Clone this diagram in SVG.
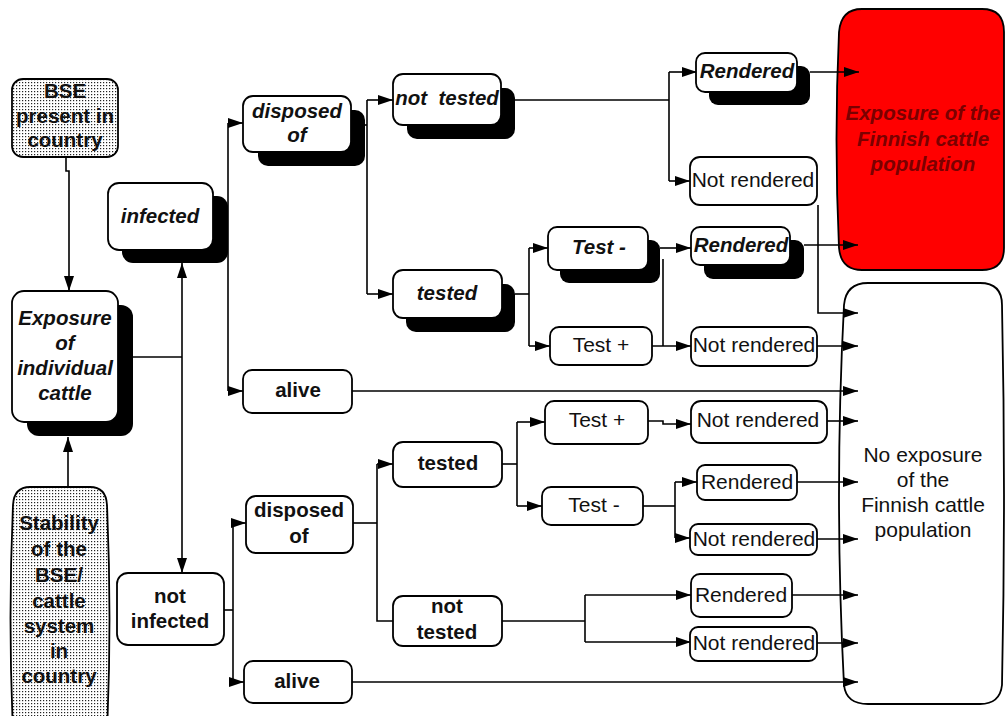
<svg xmlns="http://www.w3.org/2000/svg" width="1005" height="716" viewBox="0 0 1005 716">
<defs>
<pattern id="dots" width="3" height="3" patternUnits="userSpaceOnUse">
<rect width="3" height="3" fill="#fff"/>
<rect x="1" y="1" width="1.2" height="1.2" fill="#222"/>
</pattern>
<marker id="arr" markerWidth="15" markerHeight="10" refX="15" refY="5" orient="auto" markerUnits="userSpaceOnUse">
<path d="M0,0 L15,5 L0,10 z" fill="#000"/>
</marker>
</defs>
<style>
.box{fill:#fff;stroke:#000;stroke-width:1.8}
.sh{fill:#000}
.dot{fill:url(#dots);stroke:#000;stroke-width:1.8}
.c{fill:none;stroke:#000;stroke-width:1.6}
.a{marker-end:url(#arr)}
text{font-family:"Liberation Sans",Arial,sans-serif;text-anchor:middle;fill:#111}
.b{font-weight:bold;font-size:20.5px}
.bi{font-weight:bold;font-style:italic;font-size:20.5px}
.n{font-size:21px}
.red{fill:#7a0000}
</style>

<g id="exposure-finnish">
<path d="M862,9 H982 Q1004,9 1004,32 V248 Q1004,270 982,270 H862 Q841,270 839,248 Q834,139 839,32 Q841,9 862,9 Z" fill="#f00" stroke="#000" stroke-width="1.8"/>
<text class="bi red" x="923" y="120">Exposure of the</text>
<text class="bi red" x="923" y="146">Finnish cattle</text>
<text class="bi red" x="923" y="171">population</text>
</g>

<g id="no-exposure">
<path d="M868,283 H980 Q1002,283 1002,305 Q1006,494 1002,685 Q1000,704 980,704 H868 Q846,704 844,685 Q834,494 844,305 Q846,283 868,283 Z" fill="#fff" stroke="#000" stroke-width="1.8"/>
<text class="n" x="923" y="462">No exposure</text>
<text class="n" x="923" y="487">of the</text>
<text class="n" x="923" y="512">Finnish cattle</text>
<text class="n" x="923" y="537">population</text>
</g>

<g id="connectors">
<path class="c a" d="M66,158 V171 H69 V291"/>
<path class="c a" d="M68,487 V437"/>
<path class="c" d="M118,357 H182"/>
<path class="c a" d="M182,357 V263"/>
<path class="c a" d="M182,357 V573"/>
<path class="c" d="M213,216 H228"/>
<path class="c" d="M228,123 V391"/>
<path class="c a" d="M228,123 H243"/>
<path class="c a" d="M228,391 H243"/>
<path class="c" d="M352,125 H367"/>
<path class="c" d="M367,100 V294"/>
<path class="c a" d="M367,100 H393"/>
<path class="c a" d="M367,294 H393"/>
<path class="c" d="M515,100 H669"/>
<path class="c" d="M669,72 V181"/>
<path class="c a" d="M669,72 H697"/>
<path class="c a" d="M669,181 H690"/>
<path class="c a" d="M810,72 H859"/>
<path class="c a" d="M818,205 V313 H858"/>
<path class="c" d="M515,294 H529"/>
<path class="c" d="M529,248 V346"/>
<path class="c a" d="M529,248 H548"/>
<path class="c a" d="M529,346 H550"/>
<path class="c a" d="M660,248 H691"/>
<path class="c" d="M663,259 V346"/>
<path class="c a" d="M652,346 H691"/>
<path class="c a" d="M804,245 H858"/>
<path class="c a" d="M817,346 H858"/>
<path class="c a" d="M352,391 H858"/>
<path class="c" d="M224,610 H233"/>
<path class="c" d="M233,523 V682"/>
<path class="c a" d="M233,523 H246"/>
<path class="c a" d="M233,682 H244"/>
<path class="c" d="M353,523 H377"/>
<path class="c" d="M377,464 V621 H393"/>
<path class="c a" d="M377,464 H393"/>
<path class="c" d="M502,464 H517"/>
<path class="c" d="M517,422 V506"/>
<path class="c a" d="M517,422 H545"/>
<path class="c a" d="M517,506 H542"/>
<path class="c a" d="M648,421 H663 V424 H691"/>
<path class="c a" d="M827,421 H858"/>
<path class="c" d="M643,506 H675"/>
<path class="c" d="M675,482 V538"/>
<path class="c a" d="M675,482 H697"/>
<path class="c a" d="M675,538 H690"/>
<path class="c a" d="M797,482 H858"/>
<path class="c a" d="M817,539 H858"/>
<path class="c" d="M502,621 H585"/>
<path class="c" d="M585,595 V642"/>
<path class="c a" d="M585,595 H691"/>
<path class="c a" d="M585,642 H691"/>
<path class="c a" d="M792,595 H858"/>
<path class="c a" d="M817,643 H858"/>
<path class="c a" d="M352,682 H858"/>
</g>

<g id="bse-present">
<rect class="dot" x="12" y="79" width="106" height="78" rx="11"/>
<text class="b" x="65" y="98">BSE</text>
<text class="b" x="65" y="123">present in</text>
<text class="b" x="65" y="147">country</text>
</g>

<g id="exposure-individual">
<rect class="sh" x="27" y="305" width="106" height="131" rx="12"/>
<rect class="box" x="12" y="291" width="106" height="131" rx="12"/>
<text class="bi" x="65" y="325">Exposure</text>
<text class="bi" x="65" y="350">of</text>
<text class="bi" x="65" y="375">individual</text>
<text class="bi" x="65" y="400">cattle</text>
</g>

<g id="stability">
<path class="dot" d="M30,487 H90 Q106,487 107,505 Q112,620 107,730 H13 Q8,620 13,505 Q14,487 30,487 Z"/>
<text class="b" x="59" y="530">Stability</text>
<text class="b" x="59" y="556">of the</text>
<text class="b" x="59" y="582">BSE/</text>
<text class="b" x="59" y="608">cattle</text>
<text class="b" x="59" y="633">system</text>
<text class="b" x="59" y="658">in</text>
<text class="b" x="59" y="683">country</text>
</g>

<g id="infected">
<rect class="sh" x="122" y="196" width="106" height="67" rx="11"/>
<rect class="box" x="108" y="183" width="105" height="67" rx="11"/>
<text class="bi" x="160" y="223">infected</text>
</g>

<g id="not-infected">
<rect class="box" x="117" y="573" width="107" height="72" rx="11"/>
<text class="b" x="170" y="603">not</text>
<text class="b" x="170" y="628">infected</text>
</g>

<g id="disposed-of-1">
<rect class="sh" x="258" y="110" width="107" height="56" rx="10"/>
<rect class="box" x="243" y="96" width="108" height="56" rx="10"/>
<text class="bi" x="297" y="118">disposed</text>
<text class="bi" x="297" y="142">of</text>
</g>

<g id="alive-1">
<rect class="box" x="243" y="370" width="109" height="43" rx="9"/>
<text class="b" x="298" y="397">alive</text>
</g>

<g id="not-tested-1">
<rect class="sh" x="407" y="88" width="108" height="51" rx="10"/>
<rect class="box" x="393" y="74" width="108" height="51" rx="10"/>
<text class="bi" x="447" y="105">not&#160; tested</text>
</g>

<g id="tested-1">
<rect class="sh" x="406" y="284" width="109" height="48" rx="10"/>
<rect class="box" x="393" y="270" width="109" height="48" rx="10"/>
<text class="bi" x="447" y="300">tested</text>
</g>

<g id="test-neg-1">
<rect class="sh" x="560" y="240" width="100" height="43" rx="9"/>
<rect class="box" x="548" y="227" width="100" height="43" rx="9"/>
<text class="bi" x="599" y="254">Test -</text>
</g>

<g id="test-pos-1">
<rect class="box" x="550" y="327" width="102" height="38" rx="9"/>
<text class="n" x="601" y="352">Test +</text>
</g>

<g id="rendered-1">
<rect class="sh" x="709" y="66" width="101" height="39" rx="9"/>
<rect class="box" x="696" y="53" width="101" height="39" rx="9"/>
<text class="bi" x="747" y="78">Rendered</text>
</g>

<g id="not-rendered-1">
<rect class="box" x="690" y="157" width="127" height="48" rx="10"/>
<text class="n" x="753" y="187">Not rendered</text>
</g>

<g id="rendered-2">
<rect class="sh" x="704" y="240" width="100" height="39" rx="9"/>
<rect class="box" x="691" y="227" width="99" height="38" rx="9"/>
<text class="bi" x="741" y="252">Rendered</text>
</g>

<g id="not-rendered-2">
<rect class="box" x="691" y="327" width="126" height="39" rx="9"/>
<text class="n" x="754" y="352">Not rendered</text>
</g>

<g id="disposed-of-2">
<rect class="box" x="246" y="496" width="107" height="57" rx="10"/>
<text class="b" x="299" y="517">disposed</text>
<text class="b" x="299" y="543">of</text>
</g>

<g id="alive-2">
<rect class="box" x="244" y="661" width="108" height="42" rx="9"/>
<text class="b" x="297" y="688">alive</text>
</g>

<g id="tested-2">
<rect class="box" x="393" y="442" width="109" height="45" rx="10"/>
<text class="b" x="448" y="470">tested</text>
</g>

<g id="not-tested-2">
<rect class="box" x="393" y="596" width="109" height="50" rx="10"/>
<text class="b" x="447" y="613">not</text>
<text class="b" x="447" y="639">tested</text>
</g>

<g id="test-pos-2">
<rect class="box" x="545" y="401" width="103" height="43" rx="9"/>
<text class="n" x="597" y="427">Test +</text>
</g>

<g id="test-neg-2">
<rect class="box" x="542" y="487" width="101" height="38" rx="9"/>
<text class="n" x="594" y="512">Test -</text>
</g>

<g id="not-rendered-3">
<rect class="box" x="691" y="401" width="136" height="42" rx="10"/>
<text class="n" x="758" y="427">Not rendered</text>
</g>

<g id="rendered-3">
<rect class="box" x="697" y="465" width="100" height="35" rx="8"/>
<text class="n" x="747" y="489">Rendered</text>
</g>

<g id="not-rendered-4">
<rect class="box" x="690" y="524" width="127" height="31" rx="8"/>
<text class="n" x="754" y="546">Not rendered</text>
</g>

<g id="rendered-4">
<rect class="box" x="691" y="574" width="101" height="43" rx="9"/>
<text class="n" x="741" y="602">Rendered</text>
</g>

<g id="not-rendered-5">
<rect class="box" x="690" y="627" width="127" height="34" rx="8"/>
<text class="n" x="754" y="650">Not rendered</text>
</g>
</svg>
